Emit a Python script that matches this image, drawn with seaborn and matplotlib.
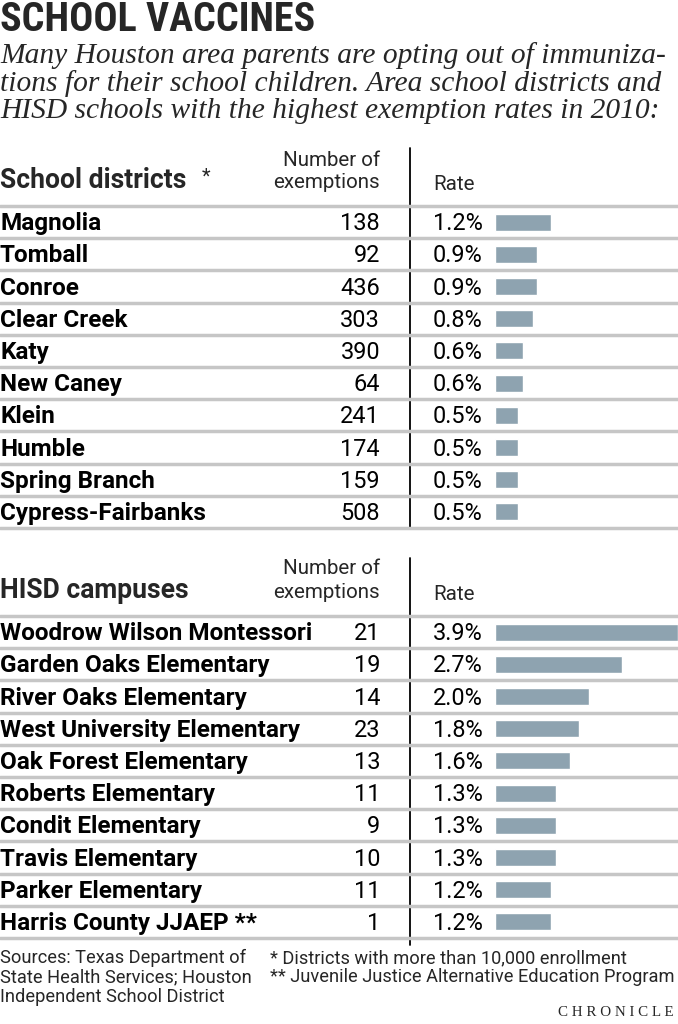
import matplotlib
matplotlib.use("Agg")
import matplotlib.pyplot as plt
import matplotlib.transforms as mtransforms
from matplotlib.lines import Line2D
from matplotlib import font_manager
import pandas as pd
import seaborn as sns

# datos
districts = ["Magnolia", "Tomball", "Conroe", "Clear Creek", "Katy", "New Caney",
             "Klein", "Humble", "Spring Branch", "Cypress-Fairbanks"]
district_exemptions = [138, 92, 436, 303, 390, 64, 241, 174, 159, 508]
district_rates = [1.2, 0.9, 0.9, 0.8, 0.6, 0.6, 0.5, 0.5, 0.5, 0.5]

campuses = ["Woodrow Wilson Montessori", "Garden Oaks Elementary", "River Oaks Elementary",
            "West University Elementary", "Oak Forest Elementary", "Roberts Elementary",
            "Condit Elementary", "Travis Elementary", "Parker Elementary", "Harris County JJAEP **"]
campus_exemptions = [21, 19, 14, 23, 13, 11, 9, 10, 11, 1]
campus_rates = [3.9, 2.7, 2.0, 1.8, 1.6, 1.3, 1.3, 1.3, 1.2, 1.2]

sns.set_theme(style="white")

available = {f.name for f in font_manager.fontManager.ttflist}
NARROW = "Roboto"
for cand in ["Liberation Sans Narrow", "Roboto Condensed", "DejaVu Sans Condensed", "Roboto"]:
    if cand in available:
        NARROW = cand
        break
SERIF = "Liberation Serif" if "Liberation Serif" in available else "DejaVu Serif"
plt.rcParams["font.family"] = ["Roboto", "DejaVu Sans"]

W, H = 678, 1024
BAR_COLOR = "#8ea3b0"
SEP_COLOR = "#c6c6c6"
fig = plt.figure(figsize=(W / 100, H / 100), dpi=100)

bg = fig.add_axes([0, 0, 1, 1])
bg.set_xlim(0, W)
bg.set_ylim(H, 0)
bg.axis("off")


def px(v):
    # pixeles -> puntos
    return v * 72 / 100


def section(names, counts, rates, top, bottom, vtop, vbottom, header, header_y, star=False):
    ax = fig.add_axes([495 / W, 1 - bottom / H, (W - 495) / W, (bottom - top) / H])
    df = pd.DataFrame({"name": names, "rate": rates})
    sns.barplot(data=df, x="rate", y="name", orient="h", color=BAR_COLOR,
                width=0.53, saturation=1, ax=ax)
    ax.set_xlim(0, 3.9)
    ax.set_ylim(len(names) - 0.5, -0.5)
    ax.axis("off")
    blend = mtransforms.blended_transform_factory(bg.transData, ax.transData)
    for i, (n, c, r) in enumerate(zip(names, counts, rates)):
        y = i + 0.05
        ax.text(0, y, n, transform=blend, ha="left", va="center", fontsize=px(24.3),
                fontweight="bold", color="black")
        ax.text(380, y, f"{c}", transform=blend, ha="right", va="center",
                fontsize=px(23.5), color="black")
        ax.text(433, y, f"{r:.1f}%", transform=blend, ha="left", va="center",
                fontsize=px(23.5), color="black")
    for k in range(len(names) + 1):
        ax.add_line(Line2D([0, W], [k - 0.5, k - 0.5], transform=blend,
                           color=SEP_COLOR, lw=2.5, clip_on=False, zorder=0))
    # linea vertical
    bg.plot([410, 410], [vtop, vbottom], color="black", lw=1.3)
    # encabezados
    bg.text(0, header_y, header, ha="left", va="center", fontsize=px(26.5),
            fontweight="bold")
    if star:
        bg.text(202, header_y - 4, "*", ha="left", va="center", fontsize=px(20))
    bg.text(380, header_y - 21, "Number of", ha="right", va="center", fontsize=px(20.5))
    bg.text(380, header_y + 2, "exemptions", ha="right", va="center", fontsize=px(20.5))
    bg.text(433, header_y + 4, "Rate", ha="left", va="center", fontsize=px(20.5))
    return ax


bg.text(0, 20, "SCHOOL VACCINES", ha="left", va="center", fontsize=px(40),
        fontweight="bold", family=NARROW)
subtitle = ["Many Houston area parents are opting out of immuniza-",
            "tions for their school children. Area school districts and",
            "HISD schools with the highest exemption rates in 2010:"]
for i, line in enumerate(subtitle):
    bg.text(0, 56 + i * 27.5, line, ha="left", va="center", fontsize=px(29.5),
            style="italic", family=SERIF)

section(districts, district_exemptions, district_rates, 206, 528, 148, 527,
        "School districts", 181, star=True)
section(campuses, campus_exemptions, campus_rates, 616, 938, 558, 945,
        "HISD campuses", 590)

sources = ["Sources: Texas Department of", "State Health Services; Houston",
           "Independent School District"]
for i, line in enumerate(sources):
    bg.text(0, 958 + i * 19.5, line, ha="left", va="center", fontsize=px(18.3))
bg.text(270, 958, "* Districts with more than 10,000 enrollment", ha="left",
        va="center", fontsize=px(18.3))
bg.text(270, 977.5, "** Juvenile Justice Alternative Education Program", ha="left",
        va="center", fontsize=px(18.3))
bg.text(674, 1012, "C H R O N I C L E", ha="right", va="center", fontsize=px(15),
        family=SERIF)

fig.savefig("out.png", dpi=100)
